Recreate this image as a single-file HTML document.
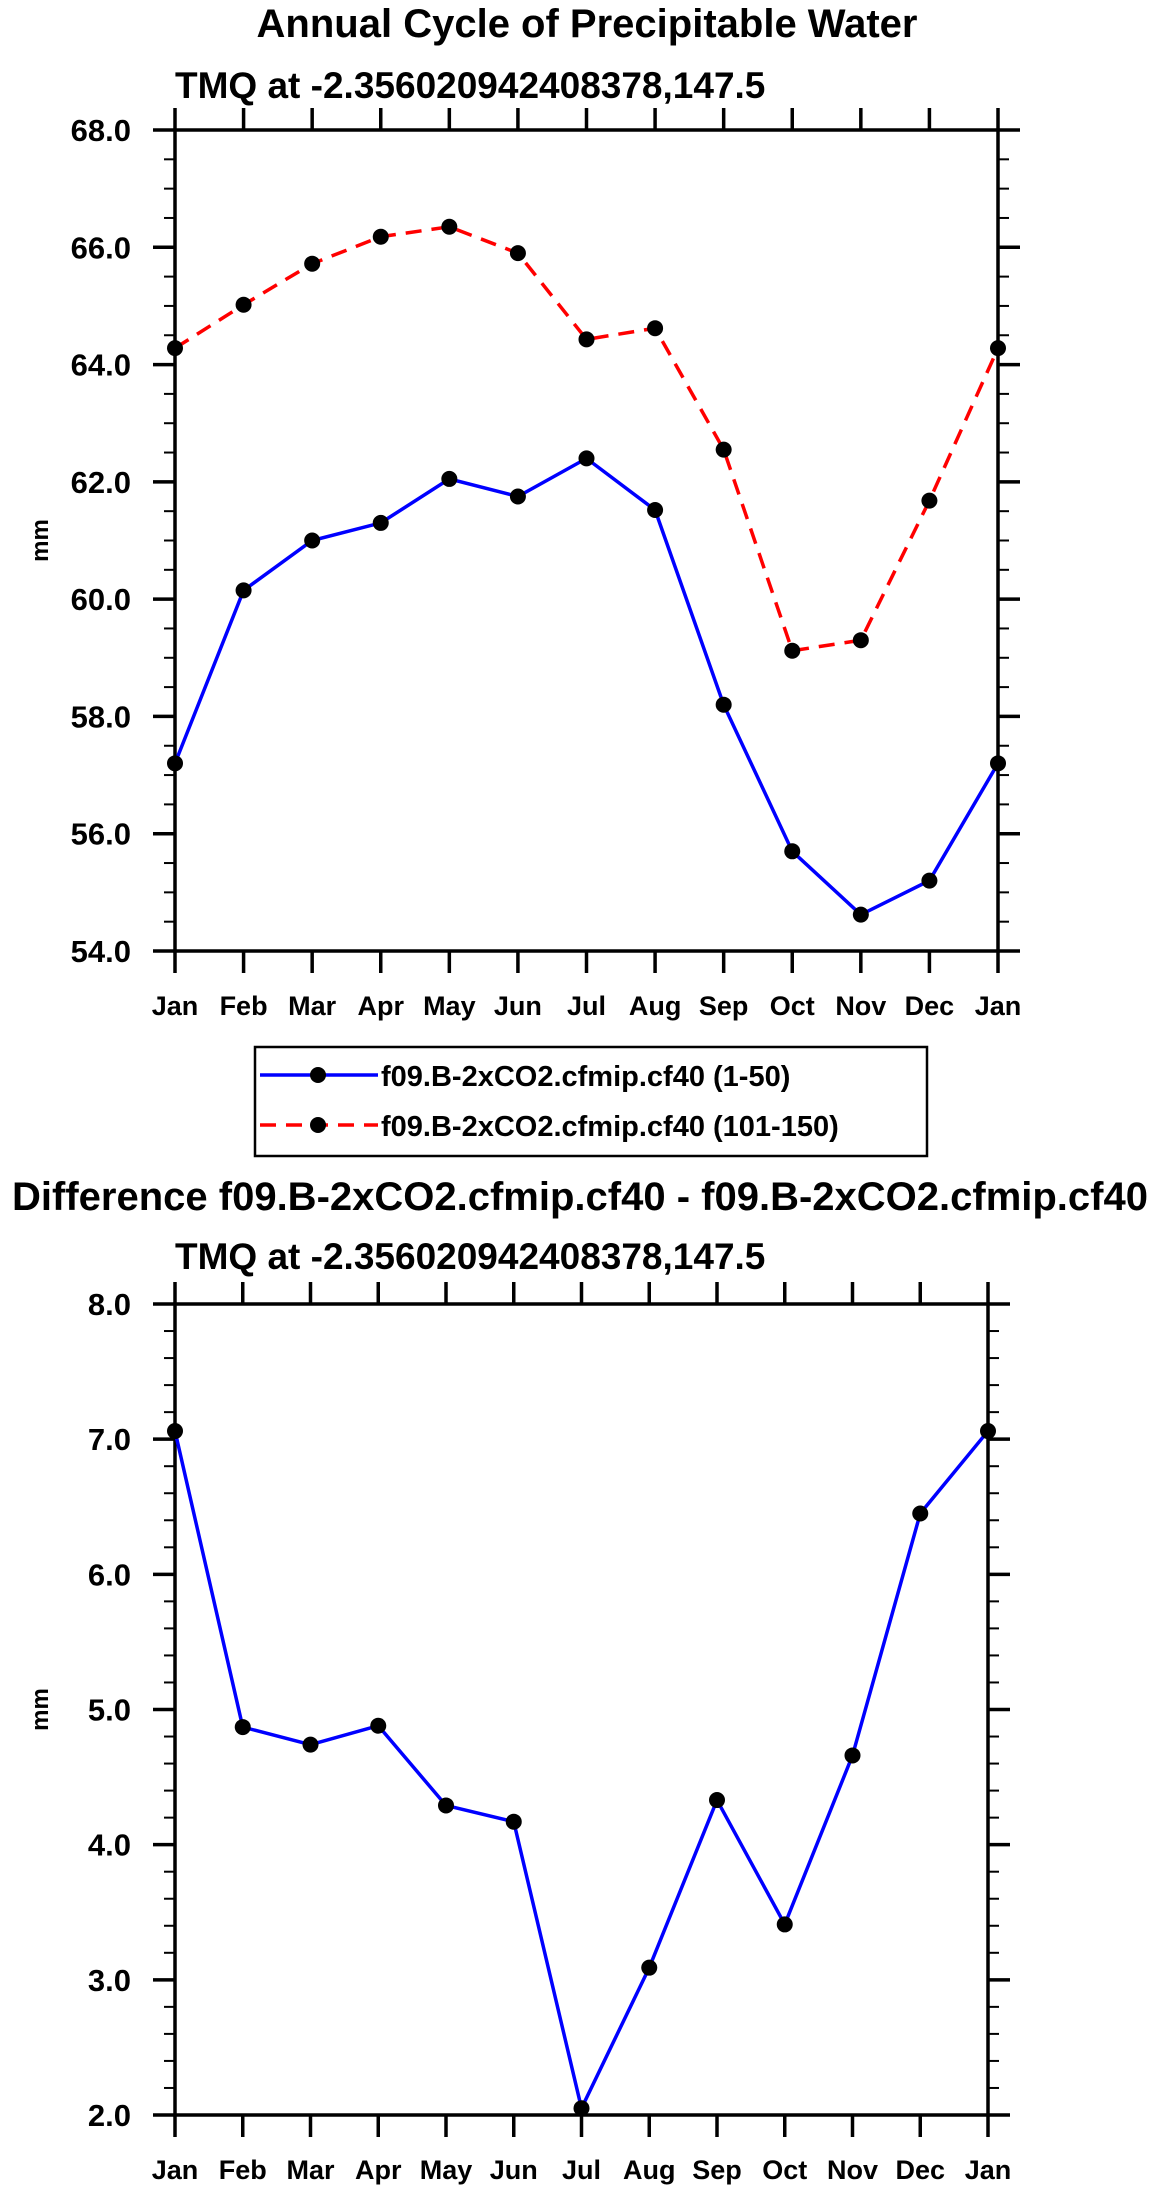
<!DOCTYPE html>
<html><head><meta charset="utf-8"><style>
html,body{margin:0;padding:0;background:#fff;}
svg{display:block;font-family:"Liberation Sans",sans-serif;font-weight:bold;}
</style></head><body>
<svg id="c" width="1160" height="2185" viewBox="0 0 1160 2185" xmlns="http://www.w3.org/2000/svg">
<text x="587" y="37" font-size="40" text-anchor="middle">Annual Cycle of Precipitable Water</text>
<text x="175" y="98" font-size="37">TMQ at -2.356020942408378,147.5</text>
<text x="580" y="1210" font-size="40" text-anchor="middle">Difference f09.B-2xCO2.cfmip.cf40 - f09.B-2xCO2.cfmip.cf40</text>
<text x="175" y="1269" font-size="37">TMQ at -2.356020942408378,147.5</text>
<g>
<rect x="255" y="1047" width="672" height="109" fill="none" stroke="#000" stroke-width="2.5"/>
<g>
<line x1="260" y1="1075" x2="378" y2="1075" stroke="#00f" stroke-width="3.5"/>
<circle cx="318" cy="1075" r="8" fill="#000"/>
<text x="381" y="1086" font-size="29">f09.B-2xCO2.cfmip.cf40 (1-50)</text>
</g>
<g>
<line x1="260" y1="1125" x2="378" y2="1125" stroke="#f00" stroke-width="3.5" stroke-dasharray="16,10"/>
<circle cx="318" cy="1125" r="8" fill="#000"/>
<text x="381" y="1136" font-size="29">f09.B-2xCO2.cfmip.cf40 (101-150)</text>
</g>
</g>
</svg>
<script>
const months = ["Jan","Feb","Mar","Apr","May","Jun","Jul","Aug","Sep","Oct","Nov","Dec","Jan"];
const series1to50 = [57.2,60.15,61.0,61.3,62.05,61.75,62.4,61.52,58.2,55.7,54.62,55.2,57.2];
const series101to150 = [64.28,65.02,65.72,66.18,66.35,65.9,64.43,64.62,62.55,59.12,59.3,61.68,64.28];
const diffValues = [7.06,4.87,4.74,4.88,4.29,4.17,2.05,3.09,4.33,3.41,4.66,6.45,7.06];
const topTicks = ["54.0","56.0","58.0","60.0","62.0","64.0","66.0","68.0"];
const bottomTicks = ["2.0","3.0","4.0","5.0","6.0","7.0","8.0"];

const svg = document.getElementById('c');
const NS = 'http://www.w3.org/2000/svg';
function mk(tag, attrs, parent){const e=document.createElementNS(NS,tag);for(const k in attrs)e.setAttribute(k,attrs[k]);(parent||svg).appendChild(e);return e;}

function panel(p){
  const g = mk('g',{});
  
  
  const n = months.length-1;
  const xs = i => p.x0 + (p.x1-p.x0)*i/n;
  const ys = v => p.y1 - (p.y1-p.y0)*(v-p.vmin)/(p.vmax-p.vmin);
  for(let v=p.vmin; v<=p.vmax+1e-9; v+=p.minor){
    mk('line',{x1:p.x0-11,x2:p.x0,y1:ys(v),y2:ys(v),stroke:'#000','stroke-width':2},g);
    mk('line',{x1:p.x1,x2:p.x1+11,y1:ys(v),y2:ys(v),stroke:'#000','stroke-width':2},g);
  }
  p.ticks.forEach(t=>{
    const y=ys(parseFloat(t));
    mk('line',{x1:p.x0-22,x2:p.x0,y1:y,y2:y,stroke:'#000','stroke-width':3.5},g);
    mk('line',{x1:p.x1,x2:p.x1+22,y1:y,y2:y,stroke:'#000','stroke-width':3.5},g);
    const tx=mk('text',{x:p.x0-44,y:y+11,'font-size':31,'text-anchor':'end'},g);
    tx.textContent=t;
    
    
  });
  months.forEach((m,i)=>{
    const x=xs(i);
    mk('line',{x1:x,x2:x,y1:p.y1,y2:p.y1+22,stroke:'#000','stroke-width':3.5},g);
    mk('line',{x1:x,x2:x,y1:p.y0-22,y2:p.y0,stroke:'#000','stroke-width':3.5},g);
    const tx=mk('text',{x:x,y:p.y1+64,'font-size':27,'text-anchor':'middle'},g);
    tx.textContent=m;
    
    
  });
  const fr=mk('rect',{x:p.x0,y:p.y0,width:p.x1-p.x0,height:p.y1-p.y0,fill:'none',stroke:'#000','stroke-width':3.5},g);
  
  
  const yl=mk('text',{x:0,y:0,'font-size':24,'text-anchor':'middle',transform:`translate(48,${(p.y0+p.y1)/2}) rotate(-90)`},g);
  yl.textContent='mm';
  
  
  p.series.forEach(s=>{
    const pts=s.data.map((v,i)=>xs(i)+','+ys(v)).join(' ');
    const pl=mk('polyline',{points:pts,fill:'none',stroke:s.color,'stroke-width':3.5,'stroke-dasharray':s.dash||'none'},g);
    
    
    s.data.forEach((v,i)=>{
      const c=mk('circle',{cx:xs(i),cy:ys(v),r:8,fill:'#000'},g);
      
      
    });
  });
}
panel({name:'top-panel',x0:175,x1:998,y0:130,y1:951,vmin:54,vmax:68,minor:0.5,ticks:topTicks,
  series:[{name:'series-1-50',data:series1to50,color:'#00f'},{name:'series-101-150',data:series101to150,color:'#f00',dash:'16,10'}]});
panel({name:'bottom-panel',x0:175,x1:988,y0:1304,y1:2115,vmin:2,vmax:8,minor:0.2,ticks:bottomTicks,
  series:[{name:'difference',data:diffValues,color:'#00f'}]});
</script>
</body></html>
